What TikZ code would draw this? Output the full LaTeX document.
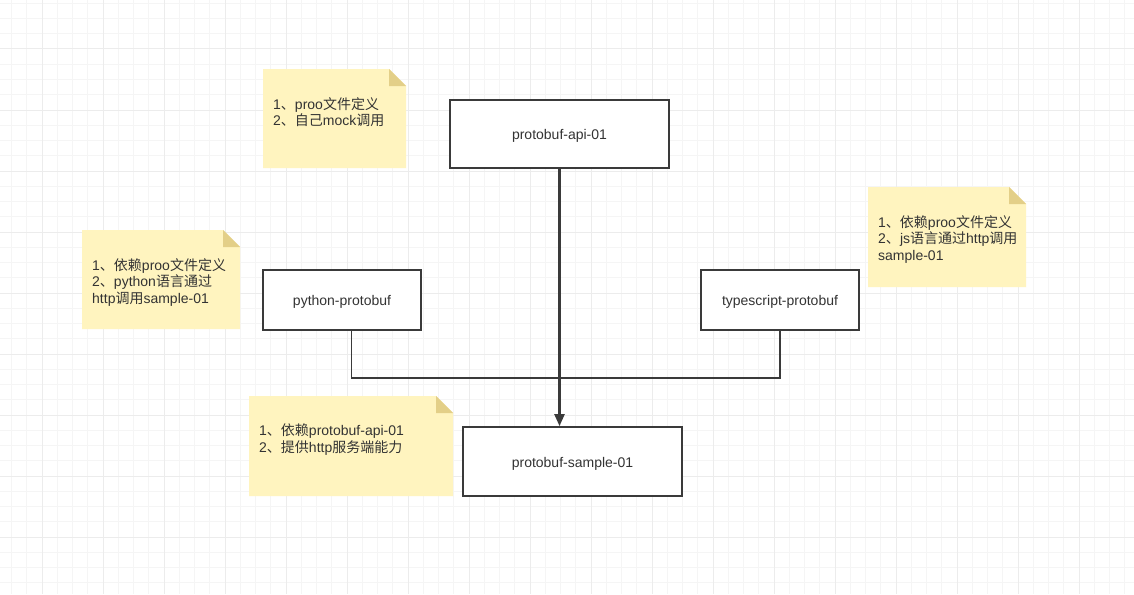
\documentclass[tikz,border=0pt]{standalone}
\usepackage{fontspec}
\setmainfont{Liberation Sans}
\newfontfamily\cjk{Noto Sans CJK SC}
\usetikzlibrary{arrows.meta}
\definecolor{minorgrid}{HTML}{F5F5F5}
\definecolor{majorgrid}{HTML}{ECECEC}
\definecolor{notefill}{HTML}{FFF4BF}
\definecolor{notefold}{HTML}{E3CF88}
\definecolor{edgecol}{HTML}{3A3A3A}
\definecolor{textcol}{HTML}{333333}
\tikzset{
  box/.style={draw=edgecol, line width=1.8pt, fill=white, inner sep=0pt,
    font=\fontsize{14}{16.5}\selectfont, text=textcol, text height=11.2pt, text depth=0pt},
  notetext/.style={anchor=north west, inner sep=0pt, align=left,
    font=\fontsize{14}{16.5}\selectfont, text=textcol},
  conn/.style={draw=edgecol, line width=1.8pt},
  mainarrow/.style={draw=edgecol, line width=2.4pt, -{Triangle[length=12pt,width=10pt]}},
}
\newcommand{\notebg}[4]{% l t r b
  \fill[notefill] (#1,#2) -- (#3-17,#2) -- (#3,#2+17) -- (#3,#4) -- (#1,#4) -- cycle;
  \fill[notefold] (#3-17,#2) -- (#3-17,#2+17) -- (#3,#2+17) -- cycle;
}
\begin{document}
\begin{tikzpicture}[x=1pt,y=-1pt]
\useasboundingbox (0,0) rectangle (1134,594);
\fill[white] (0,0) rectangle (1134,594);
% grid
\foreach \i in {0,...,74} {\draw[minorgrid, line width=1pt] (11.5+15.25*\i,0) -- ++(0,594);}
\foreach \i in {0,...,39} {\draw[minorgrid, line width=1pt] (0,3.25+15.25*\i) -- ++(1134,0);}
\foreach \i in {0,...,17} {\draw[majorgrid, line width=1pt] (42+61*\i,0) -- ++(0,594);}
\foreach \i in {0,...,9} {\draw[majorgrid, line width=1pt] (0,49+61*\i) -- ++(1134,0);}

% notes
\notebg{263}{69}{406}{168}
\node[notetext] (n1) at (273,97) {1{\cjk 、}proo{\cjk 文件定义}\\2{\cjk 、自己}mock{\cjk 调用}};
\notebg{82}{230}{240}{329}
\node[notetext] (n2) at (92,258) {1{\cjk 、依赖}proo{\cjk 文件定义}\\2{\cjk 、}python{\cjk 语言通过}\\http{\cjk 调用}sample-01};
\notebg{249}{396}{453}{496}
\node[notetext] (n3) at (259,424) {1{\cjk 、依赖}protobuf-api-01\\2{\cjk 、提供}http{\cjk 服务端能力}};
\notebg{868}{187}{1026}{287}
\node[notetext] (n4) at (878,215) {1{\cjk 、依赖}proo{\cjk 文件定义}\\2{\cjk 、}js{\cjk 语言通过}http{\cjk 调用}\\sample-01};

% boxes
\node[box, minimum width=219pt, minimum height=68pt] (api) at (559.5,134) {protobuf-api-01};
\node[box, minimum width=158pt, minimum height=60pt] (py) at (342,300) {python-protobuf};
\node[box, minimum width=158pt, minimum height=60pt] (ts) at (780,300) {typescript-protobuf};
\node[box, minimum width=219pt, minimum height=69pt] (sample) at (572.5,461.5) {protobuf-sample-01};

% connectors
\coordinate (join) at (560,378);
\draw[conn] ([xshift=9.5pt]py.south) |- (join) -| (ts.south);
\draw[mainarrow] (api.south) -- (api.south |- sample.north);
\end{tikzpicture}
\end{document}
